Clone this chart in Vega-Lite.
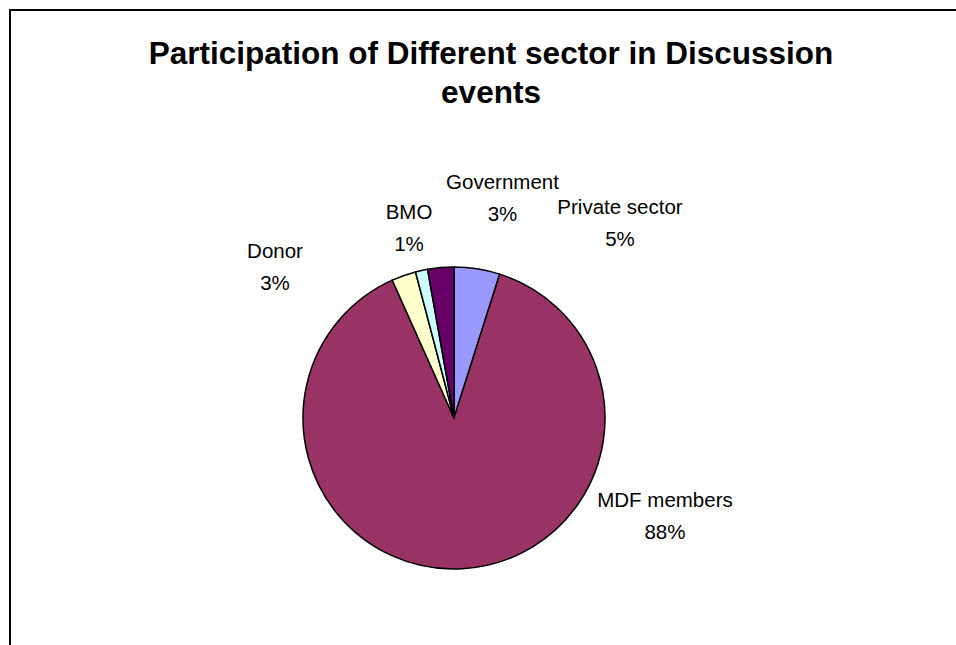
{
  "$schema": "https://vega.github.io/schema/vega-lite/v6.json",
  "width": 962,
  "height": 816,
  "autosize": {"type": "none"},
  "padding": {"left": 10, "top": 10, "right": -16, "bottom": -181},
  "background": "white",
  "view": {"stroke": "black", "strokeWidth": 2, "fill": "white"},
  "config": {
    "view": {"stroke": "black", "strokeWidth": 2},
    "font": "Liberation Sans"
  },
  "title": {
    "text": ["Participation of Different sector in Discussion", "events"],
    "font": "Liberation Sans",
    "fontSize": 31.5,
    "fontWeight": "bold",
    "lineHeight": 39,
    "anchor": "middle",
    "frame": "group",
    "baseline": "top",
    "offset": -99,
    "color": "black"
  },
  "data": {
    "values": [
      {"sector": "Private sector", "share": 0.049},
      {"sector": "MDF members", "share": 0.884},
      {"sector": "Donor", "share": 0.026},
      {"sector": "BMO", "share": 0.013},
      {"sector": "Government", "share": 0.028}
    ]
  },
  "transform": [{"window": [{"op": "row_number", "as": "rank"}]}],
  "layer": [
    {
      "mark": {"type": "arc", "outerRadius": 151, "stroke": "black", "strokeWidth": 1.5, "xOffset": -37},
      "encoding": {
        "theta": {"field": "share", "type": "quantitative", "stack": true},
        "order": {"field": "rank", "type": "quantitative"},
        "color": {
          "field": "sector",
          "type": "nominal",
          "scale": {
            "domain": ["Private sector", "MDF members", "Donor", "BMO", "Government"],
            "range": ["#9999FF", "#993366", "#FFFFCC", "#CCFFFF", "#660066"]
          },
          "legend": null
        }
      }
    },
    {
      "mark": {"type": "text", "font": "Liberation Sans", "fontSize": 20.5, "color": "black", "align": "center", "baseline": "middle", "dy": -15, "xOffset": -37},
      "encoding": {
        "theta": {"field": "share", "type": "quantitative", "stack": null,
          "scale": {"type": "linear", "zero": false, "nice": false, "domain": [0.013, 0.026, 0.028, 0.049, 0.884], "range": [6.0512, 5.4147, 0.2175, 0.7051, 2.0054]}},
        "radius": {"field": "share", "type": "quantitative",
          "scale": {"type": "linear", "zero": false, "nice": false, "domain": [0.013, 0.026, 0.028, 0.049, 0.884], "range": [195.7, 234.5, 224.8, 256.1, 232.6]}},
        "text": {"field": "sector", "type": "nominal"}
      }
    },
    {
      "mark": {"type": "text", "font": "Liberation Sans", "fontSize": 20.5, "color": "black", "align": "center", "baseline": "middle", "dy": 17, "xOffset": -37},
      "encoding": {
        "theta": {"field": "share", "type": "quantitative", "stack": null,
          "scale": {"type": "linear", "zero": false, "nice": false, "domain": [0.013, 0.026, 0.028, 0.049, 0.884], "range": [6.0512, 5.4147, 0.2175, 0.7051, 2.0054]}},
        "radius": {"field": "share", "type": "quantitative",
          "scale": {"type": "linear", "zero": false, "nice": false, "domain": [0.013, 0.026, 0.028, 0.049, 0.884], "range": [195.7, 234.5, 224.8, 256.1, 232.6]}},
        "text": {"field": "share", "type": "quantitative", "format": ".0%"}
      }
    }
  ],
  "resolve": {"scale": {"theta": "independent", "radius": "independent"}}
}
